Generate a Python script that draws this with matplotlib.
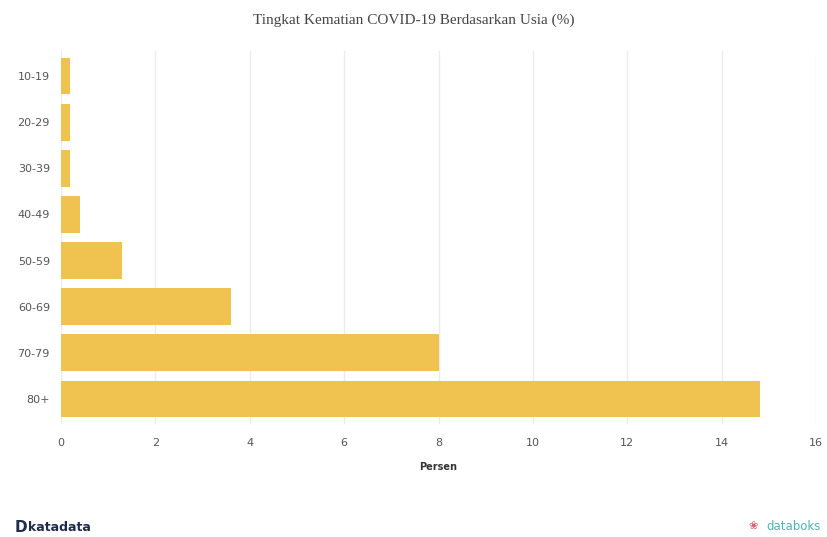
import matplotlib.pyplot as plt

# data
age_groups = ["10-19", "20-29", "30-39", "40-49", "50-59", "60-69", "70-79", "80+"]
death_rate = [0.2, 0.2, 0.2, 0.4, 1.3, 3.6, 8.0, 14.8]
x_ticks = [0, 2, 4, 6, 8, 10, 12, 14, 16]

fig = plt.figure(figsize=(8.28, 5.37), dpi=100)
ax = fig.add_axes([0.0737, 0.2097, 0.912, 0.696])

ax.barh(age_groups, death_rate, height=0.8, color="#F0C24F", zorder=2)
ax.set_xlim(0, 16)
ax.set_ylim(7.55, -0.55)
ax.set_xticks(x_ticks)
ax.grid(axis="x", color="#ececec", linewidth=1, zorder=0)
for s in ax.spines.values():
    s.set_visible(False)
ax.tick_params(axis="both", length=0, labelsize=8, colors="#555555")
ax.tick_params(axis="x", pad=10)
ax.tick_params(axis="y", pad=8)
ax.set_xlabel("Persen", fontsize=7, fontweight="bold", color="#333333", labelpad=10)

fig.text(0.5, 0.962, "Tingkat Kematian COVID-19 Berdasarkan Usia (%)",
         ha="center", va="center", fontsize=11, family="Liberation Serif", color="#444444")

# footer branding
fig.text(0.018, 0.018, "D", fontsize=11, fontweight="bold", color="#1f2d4d", va="center")
fig.text(0.034, 0.018, "katadata", fontsize=9, fontweight="bold", color="#1f2d4d", va="center")
fig.text(0.958, 0.02, "databoks", fontsize=8.5, color="#4fb3b5", ha="center", va="center")
fig.text(0.91, 0.02, "\u2740", fontsize=8, color="#e05a6a", ha="center", va="center")

fig.savefig("out.png", dpi=100)
